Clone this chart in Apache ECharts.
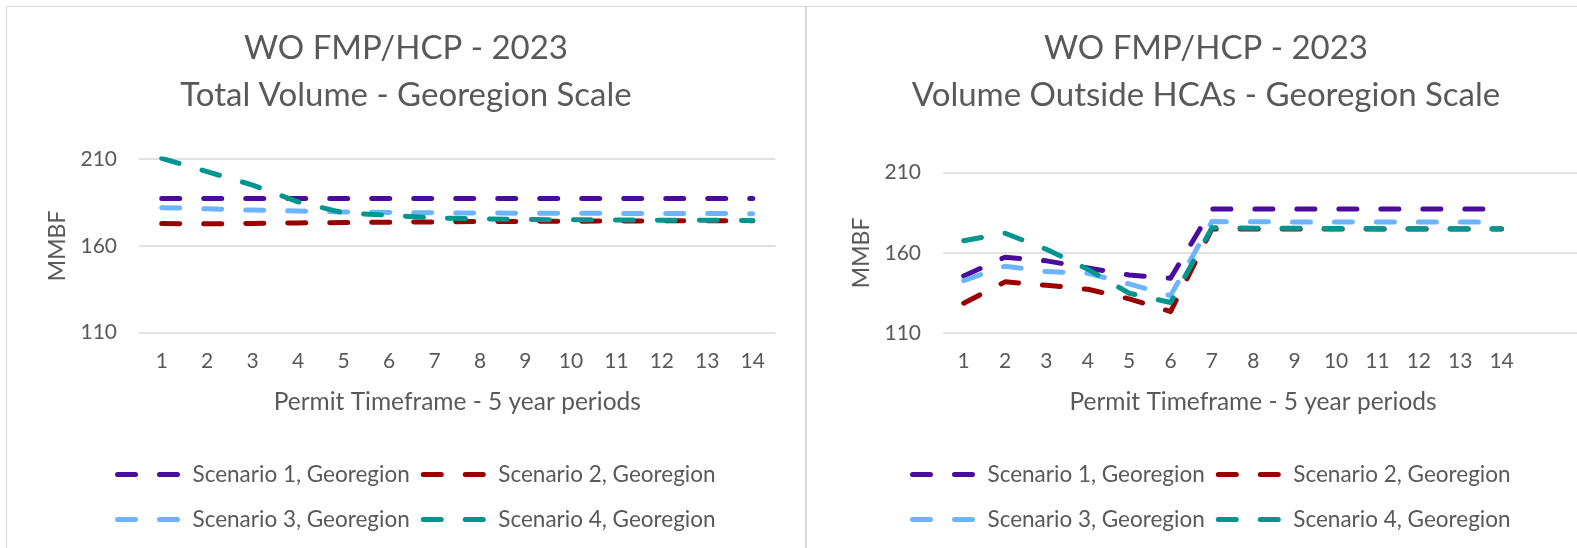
<!DOCTYPE html>
<html>
<head>
<meta charset="utf-8">
<script src="https://cdn.jsdelivr.net/npm/echarts@6/dist/echarts.min.js"></script>
<style>
  html, body { margin: 0; padding: 0; background: #fff; width: 1577px; height: 548px; overflow: hidden; position: relative; }
  .box { position: absolute; top: 6px; height: 560px; border: 1px solid #d9d9d9; border-bottom: none; }
  #left { left: 6px; width: 798px; }
  #right { left: 806px; width: 798px; }
  .chart { width: 798px; height: 560px; }
</style>
</head>
<body>
<div class="box" id="left"><div class="chart" id="chartLeft"></div></div>
<div class="box" id="right"><div class="chart" id="chartRight"></div></div>
<script>
var periods = ['1', '2', '3', '4', '5', '6', '7', '8', '9', '10', '11', '12', '13', '14'];
var periodsRight = periods.concat(['', '']);
var yTicks = [110, 160, 210];
var names = ['Scenario 1, Georegion', 'Scenario 2, Georegion', 'Scenario 3, Georegion', 'Scenario 4, Georegion'];
var colors = ['#4b0b9c', '#990000', '#6cb4ff', '#00968f'];

// Total Volume (MMBF)
var total1 = [187.3, 187.3, 187.3, 187.3, 187.3, 187.3, 187.3, 187.3, 187.3, 187.3, 187.3, 187.3, 187.3, 187.3];
var total2 = [172.8, 172.7, 172.9, 173.2, 173.4, 173.6, 173.8, 174.0, 174.1, 174.2, 174.3, 174.4, 174.5, 174.5];
var total3 = [182.0, 181.3, 180.6, 180.0, 179.5, 179.2, 179.0, 178.9, 178.8, 178.7, 178.7, 178.6, 178.6, 178.5];
var total4 = [210.4, 202.7, 195.0, 185.3, 179.0, 177.6, 176.1, 175.5, 175.2, 175.0, 174.9, 174.8, 174.7, 174.6];

// Volume outside HCAs (MMBF)
var outside1 = [145.6, 157.3, 155.0, 150.6, 146.2, 144.2, 187.4, 187.4, 187.4, 187.4, 187.4, 187.4, 187.4, 187.4];
var outside2 = [128.6, 141.9, 139.8, 137.3, 131.3, 123.4, 174.9, 174.9, 174.9, 174.9, 174.9, 174.9, 174.9, 174.9];
var outside3 = [142.7, 151.7, 148.3, 147.3, 140.6, 133.3, 179.5, 179.4, 179.3, 179.3, 179.2, 179.2, 179.2, 179.2];
var outside4 = [167.6, 172.2, 162.2, 149.8, 134.8, 129.0, 175.6, 175.4, 175.3, 175.2, 175.1, 175.1, 175.0, 175.0];

var font = 'Lato';
var grey = '#595959';

function makeSeries(list) {
  return list.map(function (d, i) {
    return {
      name: names[i],
      type: 'line',
      data: d,
      symbol: 'none',
      showSymbol: false,
      color: colors[i],
      lineStyle: { color: colors[i], width: 5, type: [18, 24], cap: 'round', join: 'round' }
    };
  });
}

function legendRow(data, left, top) {
  return {
    data: data,
    left: left,
    top: top,
    orient: 'horizontal',
    itemWidth: 60,
    itemHeight: 20,
    itemGap: 11,
    selectedMode: false,
    itemStyle: { opacity: 0 },
    lineStyle: { width: 5, cap: 'round', type: 'inherit' },
    textStyle: { fontFamily: font, fontSize: 22.5, color: grey, width: 214, padding: [0, 0, 0, 10], lineHeight: 22 }
  };
}

function buildOption(cfg) {
  return {
    animation: false,
    title: {
      text: 'WO FMP/HCP - 2023\n' + cfg.subtitle,
      left: 'center',
      top: 18,
      padding: cfg.titlePad,
      textStyle: { fontFamily: font, fontSize: 33, fontWeight: 'normal', color: grey, lineHeight: 47 }
    },
    legend: [legendRow([names[0], names[1]], cfg.legendLeft, 451), legendRow([names[2], names[3]], cfg.legendLeft, 496)],
    grid: { left: cfg.grid[0], top: cfg.grid[1], width: cfg.grid[2], height: cfg.grid[3] },
    xAxis: {
      type: 'category',
      data: cfg.categories,
      boundaryGap: true,
      axisLine: { show: false },
      axisTick: { show: false },
      axisLabel: { interval: 0, fontFamily: font, fontSize: 21, color: grey, margin: 18 },
      name: 'Permit Timeframe - 5 year periods',
      nameLocation: 'middle',
      nameGap: 57,
      nameTextStyle: { fontFamily: font, fontSize: 24.5, color: grey, padding: cfg.namePad }
    },
    yAxis: {
      type: 'value',
      min: 110,
      max: 210,
      axisLine: { show: false },
      axisTick: { show: false, customValues: yTicks },
      axisLabel: { customValues: yTicks, fontFamily: font, fontSize: 21, color: grey, margin: 22 },
      splitLine: { lineStyle: { color: '#d9d9d9', width: 1.5 } },
      name: 'MMBF',
      nameLocation: 'middle',
      nameGap: cfg.yNameGap,
      nameTextStyle: { fontFamily: font, fontSize: 23, color: grey }
    },
    series: makeSeries(cfg.data)
  };
}

var chartLeft = echarts.init(document.getElementById('chartLeft'));
chartLeft.setOption(buildOption({
  subtitle: 'Total Volume - Georegion Scale',
  titlePad: [0, 0, 0, 0],
  legendLeft: 103,
  grid: [132, 152, 636.5, 173.7],
  categories: periods,
  namePad: [0, 0, 0, 0],
  yNameGap: 68,
  data: [total1, total2, total3, total4]
}));

var chartRight = echarts.init(document.getElementById('chartRight'));
chartRight.setOption(buildOption({
  subtitle: 'Volume Outside HCAs - Georegion Scale',
  titlePad: [0, 18, 0, 0],
  legendLeft: 98,
  grid: [136, 165.7, 664, 160.3],
  categories: periodsRight,
  namePad: [0, 42, 0, 0],
  yNameGap: 70,
  data: [outside1, outside2, outside3, outside4]
}));
</script>
</body>
</html>
